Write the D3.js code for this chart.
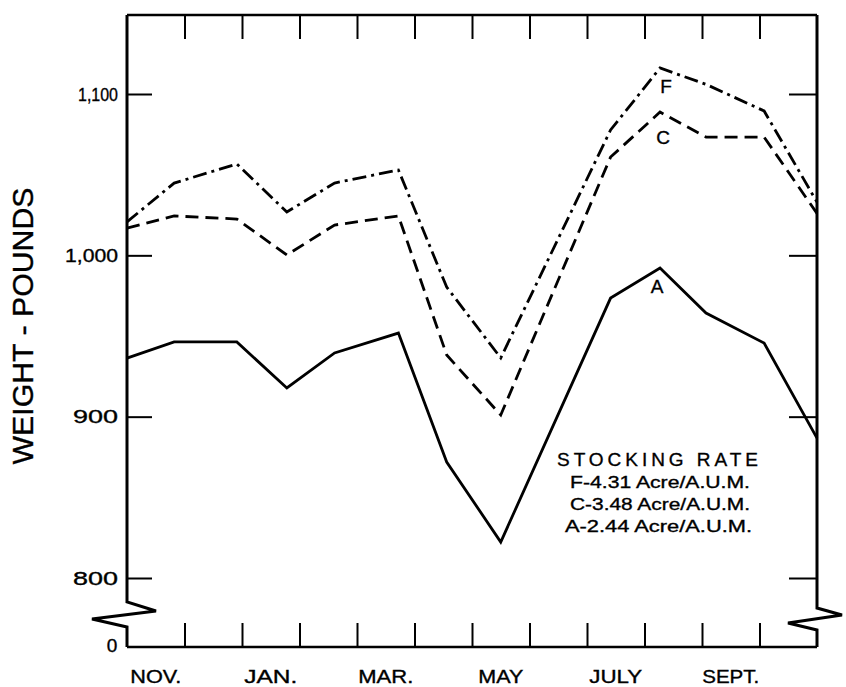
<!DOCTYPE html>
<html>
<head>
<meta charset="utf-8">
<script src="https://cdn.jsdelivr.net/npm/d3@7"></script>
<style>
  html, body { margin: 0; padding: 0; background: #fff; }
  svg { display: block; }
  text { font-family: "Liberation Sans", Arial, sans-serif; fill: #000; stroke: #000; stroke-width: 0.35px; }
</style>
</head>
<body>
<svg id="chart" width="846" height="687"></svg>
<script>
// ---- data (months measured from Nov. 1) ----
const sampleMonths = [0, 0.82, 1.91, 2.78, 3.61, 4.72, 5.56, 6.50, 8.41, 9.27, 10.07, 11.08, 12];
const seriesF = [1020.7, 1044.8, 1056.6, 1026.9, 1044.8, 1052.9, 980.3, 936.4, 1077.7, 1116.1, 1106, 1089.5, 1033];
const seriesC = [1016.9, 1024.4, 1022.5, 1000.2, 1018.8, 1024.4, 938.2, 901.0, 1060.9, 1088.8, 1073.3, 1073.3, 1026];
const seriesA = [936.3, 946.3, 946.3, 917.8, 939.5, 951.8, 871.9, 822.3, 973.5, 992.1, 964.2, 945.6, 886.7];
const monthLabels = ["NOV.", "JAN.", "MAR.", "MAY", "JULY", "SEPT."];
const yTickValues = [800, 900, 1000, 1100];
const yTickLabels = ["800", "900", "1,000", "1,100"];
const legendTitle = "STOCKING RATE";
const legendLines = ["F-4.31 Acre/A.U.M.", "C-3.48 Acre/A.U.M.", "A-2.44 Acre/A.U.M."];
const seriesNames = ["F", "C", "A"];

// ---- layout ----
const pLeft = 127, pRight = 817, pTop = 15, pBottom = 647;
const svg = d3.select("#chart");

const x = d3.scaleLinear().domain([0, 12]).range([pLeft, pRight]);
const y = d3.scaleLinear().domain([800, 1100]).range([578, 94]);

// frame with axis breaks
const frame = svg.append("g").attr("fill", "none").attr("stroke", "#000").attr("stroke-linejoin", "miter");
frame.append("path")
  .attr("stroke-width", 3)
  .attr("d", `M${pLeft},${pTop} L${pLeft},602 L156,611 L92,619 L${pLeft},627 L${pLeft},${pBottom}`);
frame.append("path")
  .attr("stroke-width", 2.6)
  .attr("d", `M${pLeft},${pBottom} L${pRight},${pBottom}`);
frame.append("path")
  .attr("stroke-width", 3)
  .attr("d", `M${pRight},${pTop} L${pRight},608 L842,615 L788,623 L${pRight},630 L${pRight},${pBottom}`);
frame.append("path")
  .attr("stroke-width", 2.6)
  .attr("d", `M${pLeft},${pTop} L${pRight},${pTop}`);

// month ticks (top and bottom, pointing inward)
const monthTicks = d3.range(1, 12);
const bottomAxis = svg.append("g").attr("transform", `translate(0,${pBottom})`)
  .call(d3.axisBottom(x).tickValues(monthTicks).tickSize(-24).tickFormat(""));
const topAxis = svg.append("g").attr("transform", `translate(0,${pTop})`)
  .call(d3.axisTop(x).tickValues(monthTicks).tickSize(-24).tickFormat(""));
[bottomAxis, topAxis].forEach(g => {
  g.select(".domain").remove();
  g.selectAll(".tick line").attr("stroke", "#000").attr("stroke-width", 2);
});

// month labels centred in their month
const labelWidths = [51, 53, 55, 45, 53, 57];
svg.append("g").selectAll("text").data(monthLabels).join("text")
  .attr("x", (d, i) => x(i * 2 + 0.5))
  .attr("y", 683)
  .attr("text-anchor", "middle")
  .attr("font-size", 18)
  .attr("textLength", (d, i) => labelWidths[i])
  .attr("lengthAdjust", "spacingAndGlyphs")
  .text(d => d);

// y ticks left & right
const leftAxis = svg.append("g").attr("transform", `translate(${pLeft},0)`)
  .call(d3.axisLeft(y).tickValues(yTickValues).tickSize(-25).tickPadding(9)
    .tickFormat((d, i) => yTickLabels[i]));
leftAxis.select(".domain").remove();
leftAxis.selectAll(".tick line").attr("stroke", "#000").attr("stroke-width", 2);
leftAxis.selectAll(".tick text")
  .attr("font-size", 19)
  .attr("font-family", "'Liberation Sans', Arial, sans-serif")
  .attr("fill", "#000")
  .attr("textLength", (d, i) => [45, 45, 53, 40][i])
  .attr("lengthAdjust", "spacingAndGlyphs");

const rightAxis = svg.append("g").attr("transform", `translate(${pRight},0)`)
  .call(d3.axisRight(y).tickValues(yTickValues).tickSize(-28).tickFormat(""));
rightAxis.select(".domain").remove();
rightAxis.selectAll(".tick line").attr("stroke", "#000").attr("stroke-width", 2);

// zero label at the bottom of the broken axis
svg.append("text")
  .attr("x", 112).attr("y", 652)
  .attr("text-anchor", "middle")
  .attr("font-size", 19)
  .text("0");

// y axis title
svg.append("text")
  .attr("transform", "translate(33,326) rotate(-90)")
  .attr("text-anchor", "middle")
  .attr("font-size", 29)
  .attr("textLength", 277)
  .attr("lengthAdjust", "spacingAndGlyphs")
  .text("WEIGHT - POUNDS");

// series lines
const line = d3.line().x((d, i) => x(sampleMonths[i])).y(d => y(d));
const lineStyles = [
  { data: seriesF, dash: "14,5,3,5" },
  { data: seriesC, dash: "13,7" },
  { data: seriesA, dash: null }
];
svg.append("g").selectAll("path").data(lineStyles).join("path")
  .attr("d", d => line(d.data))
  .attr("fill", "none")
  .attr("stroke", "#000")
  .attr("stroke-width", 2.8)
  .attr("stroke-linejoin", "miter")
  .attr("stroke-dasharray", d => d.dash);

// series letters near the July/Aug peak
const letterPos = [[666, 93], [663, 144], [657, 293]];
svg.append("g").selectAll("text").data(seriesNames).join("text")
  .attr("x", (d, i) => letterPos[i][0])
  .attr("y", (d, i) => letterPos[i][1])
  .attr("text-anchor", "middle")
  .attr("font-size", 19)
  .text(d => d);

// legend
svg.append("text")
  .attr("x", 557).attr("y", 466)
  .attr("font-size", 19)
  .attr("textLength", 201)
  .attr("lengthAdjust", "spacing")
  .text(legendTitle);
const legX = [570, 570, 565], legW = [180, 180, 187];
svg.append("g").selectAll("text").data(legendLines).join("text")
  .attr("x", (d, i) => legX[i])
  .attr("y", (d, i) => 488 + i * 22)
  .attr("font-size", 17)
  .attr("textLength", (d, i) => legW[i])
  .attr("lengthAdjust", "spacingAndGlyphs")
  .text(d => d);
</script>
</body>
</html>
